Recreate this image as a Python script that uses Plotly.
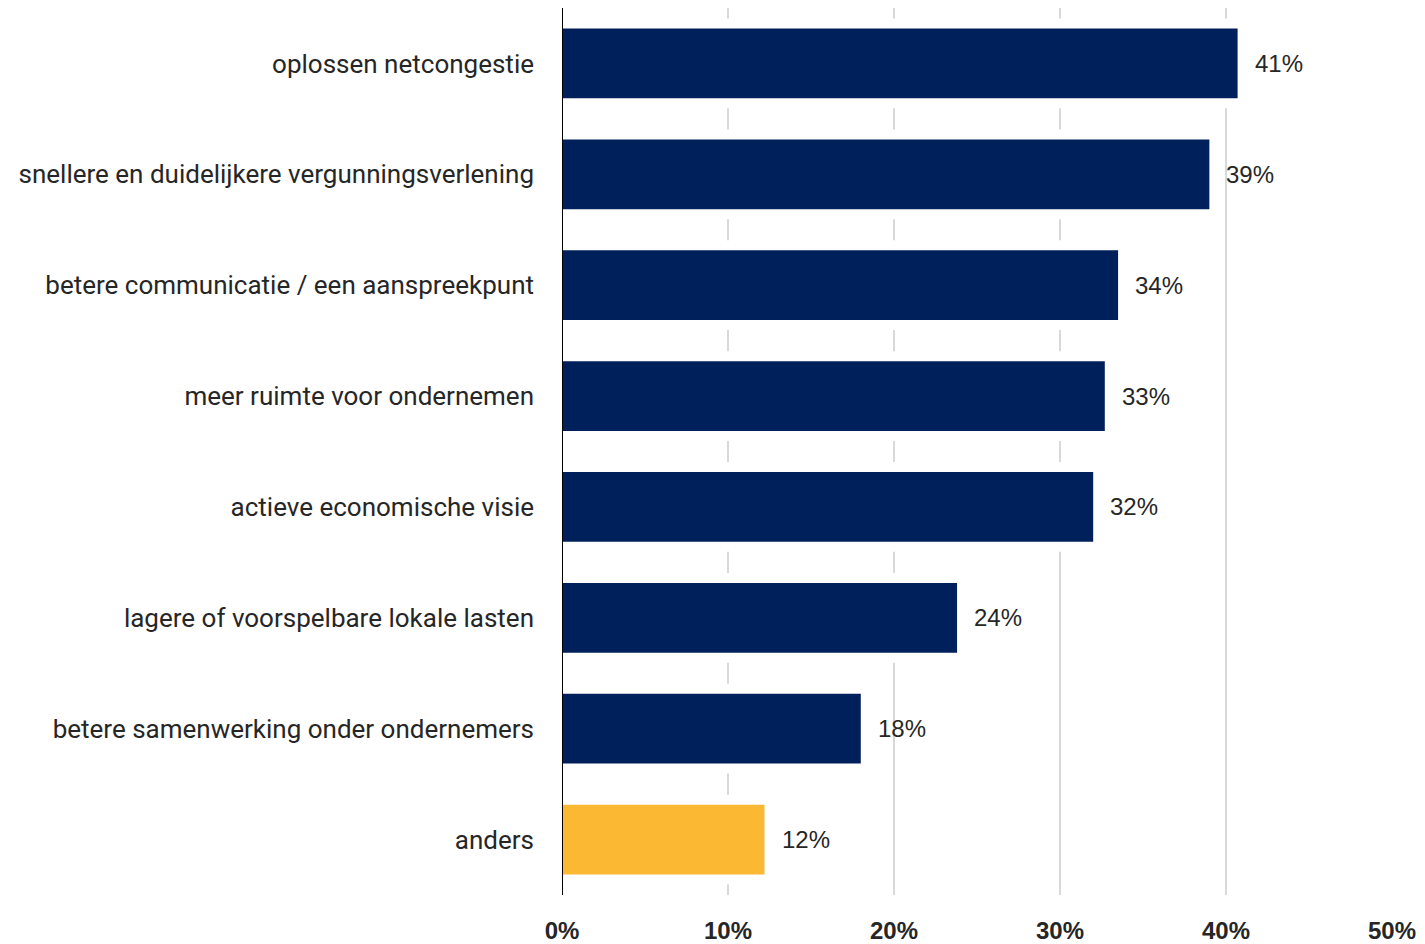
import plotly.graph_objects as go

categories = [
    "oplossen netcongestie",
    "snellere en duidelijkere vergunningsverlening",
    "betere communicatie / een aanspreekpunt",
    "meer ruimte voor ondernemen",
    "actieve economische visie",
    "lagere of voorspelbare lokale lasten",
    "betere samenwerking onder ondernemers",
    "anders",
]
values = [41.0, 39.3, 33.8, 33.0, 32.3, 24.1, 18.3, 12.5]
value_labels = ["41%", "39%", "34%", "33%", "32%", "24%", "18%", "12%"]
bar_colors = ["#00205b"] * 7 + ["#fbb832"]
tick_vals = [0, 10, 20, 30, 40, 50]
tick_text = ["0%", "10%", "20%", "30%", "40%", "50%"]

CAT_FONT = "Roboto"
NUM_FONT = "Liberation Sans"

fig = go.Figure()
fig.add_trace(go.Bar(
    y=categories,
    x=[v + 0.3 for v in values],
    base=-0.3,
    orientation="h",
    marker=dict(color=bar_colors, line=dict(color="white", width=10)),
    width=0.72,
    hoverinfo="skip",
))

for c, v, t in zip(categories, values, value_labels):
    fig.add_annotation(
        x=v, y=c, text=t, showarrow=False, xanchor="left", yanchor="middle",
        xshift=10, font=dict(family=NUM_FONT, size=24, color="#262626"),
    )

fig.update_layout(
    width=1417, height=936,
    margin=dict(l=554, r=33, t=0, b=49),
    paper_bgcolor="white", plot_bgcolor="white",
    showlegend=False,
    font=dict(family=CAT_FONT, size=26, color="#262626"),
)
fig.update_xaxes(
    range=[0, 50], tickvals=tick_vals, ticktext=tick_text,
    showgrid=True, gridcolor="#d9d9d9", gridwidth=2,
    zeroline=False, showline=False,
    tickfont=dict(family=NUM_FONT, size=24, color="#262626", weight="bold"),
    ticks="", ticklabelstandoff=19,
)
fig.update_yaxes(
    autorange="reversed", showgrid=False, zeroline=False,
    showline=False, ticks="", ticklabelstandoff=27,
    tickfont=dict(family=CAT_FONT, size=26, color="#262626"),
)
fig.add_shape(type="line", xref="x", yref="paper", x0=0, x1=0, y0=0, y1=1,
              line=dict(color="black", width=2), layer="above")

fig.write_html("out.html")
